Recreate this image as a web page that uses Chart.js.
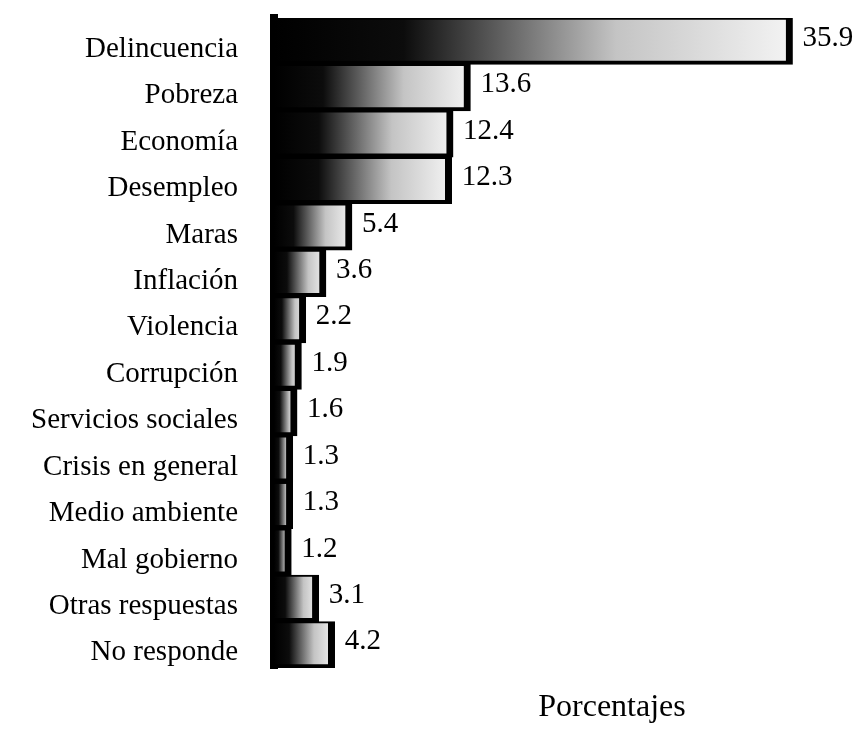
<!DOCTYPE html>
<html>
<head>
<meta charset="utf-8">
<script src="https://cdn.jsdelivr.net/npm/chart.js@4/dist/chart.umd.min.js"></script>
<style>
  html, body { margin: 0; padding: 0; background: #fff; }
  #wrap { width: 865px; height: 731px; }
</style>
</head>
<body>
<div id="wrap"><canvas id="problemChart"></canvas></div>
<script>
const categories = [
    'Delincuencia', 'Pobreza', 'Economía', 'Desempleo', 'Maras', 'Inflación',
    'Violencia', 'Corrupción', 'Servicios sociales', 'Crisis en general',
    'Medio ambiente', 'Mal gobierno', 'Otras respuestas', 'No responde'
];
const percentages = [35.9, 13.6, 12.4, 12.3, 5.4, 3.6, 2.2, 1.9, 1.6, 1.3, 1.3, 1.2, 3.1, 4.2];
const axisTitle = 'Porcentajes';

const serif = '"Liberation Serif", "Times New Roman", serif';

// black on the left fading to light grey at the end of each bar
function barGradient(context) {
    const chart = context.chart;
    if (!chart.chartArea) return '#000';
    const xs = chart.scales.x;
    const x0 = xs.getPixelForValue(0);
    const x1 = xs.getPixelForValue(context.raw);
    const g = chart.ctx.createLinearGradient(x0, 0, x1, 0);
    g.addColorStop(0, '#000');
    g.addColorStop(0.25, '#0c0c0c');
    g.addColorStop(0.47, '#6e6e6e');
    g.addColorStop(0.66, '#c4c4c4');
    g.addColorStop(1, '#f4f4f4');
    return g;
}

const valueLabels = {
    id: 'valueLabels',
    afterDatasetsDraw(chart) {
        const { ctx } = chart;
        const meta = chart.getDatasetMeta(0);
        ctx.save();
        ctx.fillStyle = '#000';
        ctx.font = '29px ' + serif;
        ctx.textAlign = 'left';
        ctx.textBaseline = 'middle';
        meta.data.forEach((bar, i) => {
            ctx.fillText(percentages[i].toFixed(1), bar.x + 10, bar.y - 3);
        });
        ctx.restore();
    }
};

const bottomTitle = {
    id: 'bottomTitle',
    afterDraw(chart) {
        const { ctx, chartArea } = chart;
        ctx.save();
        ctx.fillStyle = '#000';
        ctx.font = '32px ' + serif;
        ctx.textAlign = 'center';
        ctx.textBaseline = 'middle';
        const x = chartArea.left + (chartArea.right - chartArea.left) * 0.65;
        ctx.fillText(axisTitle, x, chartArea.bottom + 40);
        ctx.restore();
    }
};

new Chart(document.getElementById('problemChart'), {
    type: 'bar',
    data: {
        labels: categories,
        datasets: [{
            label: axisTitle,
            data: percentages,
            backgroundColor: barGradient,
            borderColor: '#000',
            borderWidth: { top: 2, right: 7, bottom: 4, left: 0 },
            borderSkipped: false,
            barPercentage: 1,
            categoryPercentage: 1
        }]
    },
    options: {
        indexAxis: 'y',
        responsive: true,
        maintainAspectRatio: false,
        animation: false,
        layout: { padding: { top: 18, right: 71, bottom: 63, left: 0 } },
        plugins: {
            legend: { display: false },
            tooltip: { enabled: false }
        },
        scales: {
            x: {
                min: 0,
                max: 36,
                display: false
            },
            y: {
                grid: { display: false, drawTicks: false },
                border: { display: true, color: '#000', width: 8 },
                ticks: {
                    color: '#000',
                    font: { family: serif, size: 29 },
                    padding: 36,
                    labelOffset: 8
                },
                afterFit(scale) {
                    scale.width = 274;
                    scale.paddingTop = 0;
                    scale.paddingBottom = 0;
                }
            }
        }
    },
    plugins: [valueLabels, bottomTitle]
});
</script>
</body>
</html>
